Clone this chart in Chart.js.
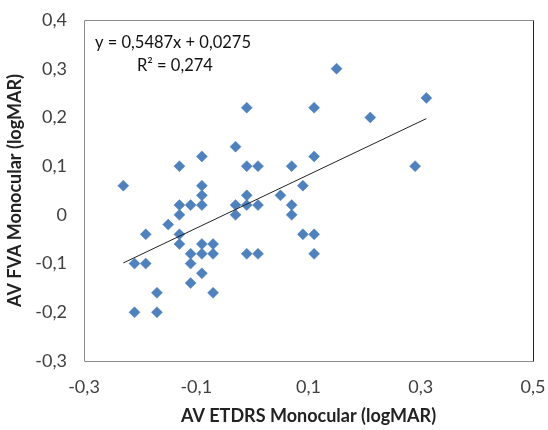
<!DOCTYPE html>
<html>
<head>
<meta charset="utf-8">
<script src="https://cdn.jsdelivr.net/npm/chart.js@4.4.1/dist/chart.umd.min.js"></script>
<style>
  html, body { margin: 0; padding: 0; background: #fff; }
  #wrap { position: relative; width: 548px; height: 430px; }
</style>
</head>
<body>
<div id="wrap"><canvas id="scatterChart"></canvas></div>
<script>
// ============================================
// DATA
// ============================================

// AV ETDRS monocular (x) and AV FVA monocular (y), logMAR
const etdrs = [
    -0.23, -0.03, -0.09, -0.13, -0.01, -0.09, -0.09, -0.13, -0.11, -0.09,
    -0.03, -0.01, -0.13, -0.03, -0.15, -0.19, -0.13, -0.13, -0.09, -0.07,
    -0.11, -0.09, -0.07, -0.01, -0.21, -0.19, -0.11, -0.09, -0.11, -0.17,
    -0.07, -0.21, -0.17, -0.01, 0.11, 0.21, 0.01, 0.07, 0.11, 0.09,
    0.05, -0.01, 0.01, 0.07, 0.07, 0.09, 0.11, 0.01, 0.11, 0.15,
    0.31, 0.29
];
const fva = [
    0.06, 0.14, 0.12, 0.10, 0.10, 0.06, 0.04, 0.02, 0.02, 0.02,
    0.02, 0.04, 0.00, 0.00, -0.02, -0.04, -0.04, -0.06, -0.06, -0.06,
    -0.08, -0.08, -0.08, -0.08, -0.10, -0.10, -0.10, -0.12, -0.14, -0.16,
    -0.16, -0.20, -0.20, 0.22, 0.22, 0.20, 0.10, 0.10, 0.12, 0.06,
    0.04, 0.02, 0.02, 0.02, 0.00, -0.04, -0.04, -0.08, -0.08, 0.30,
    0.24, 0.10
];

// linear trendline shown in the picture
const slope = 0.5487;
const intercept = 0.0275;
const equationText = 'y = 0,5487x + 0,0275';
const r2Text = 'R\u00b2 = 0,274';

// tick labels
const xTicks = [-0.3, -0.1, 0.1, 0.3, 0.5];
const yTicks = [-0.3, -0.2, -0.1, 0, 0.1, 0.2, 0.3, 0.4];

const xTitle = 'AV ETDRS Monocular (logMAR)';
const yTitle = 'AV FVA Monocular (logMAR)';

// ============================================
// CHART
// ============================================

const FONT = 'Lato, "Open Sans", sans-serif';
const pointBlue = '#4F81BD';

function commaLabel(v) {
    if (Math.abs(v) < 1e-9) return '0';
    return v.toFixed(1).replace('.', ',');
}

const points = etdrs.map((x, i) => ({ x: x, y: fva[i] }));
const xMin = Math.min(...etdrs);
const xMax = Math.max(...etdrs);
const trend = [
    { x: xMin, y: slope * xMin + intercept },
    { x: xMax, y: slope * xMax + intercept }
];

// plot frame + equation label
const framePlugin = {
    id: 'frame',
    afterDraw(chart) {
        const { ctx, chartArea: a } = chart;
        ctx.save();
        ctx.lineWidth = 1;
        ctx.strokeStyle = '#8c8c8c';
        ctx.beginPath();
        ctx.moveTo(a.left + 0.5, a.top + 0.5);
        ctx.lineTo(a.left + 0.5, a.bottom + 0.5);
        ctx.lineTo(a.right + 0.5, a.bottom + 0.5);
        ctx.moveTo(a.left + 0.5, a.top + 0.5);
        ctx.lineTo(a.right + 0.5, a.top + 0.5);
        ctx.stroke();
        ctx.strokeStyle = '#222';
        ctx.beginPath();
        ctx.moveTo(a.right + 0.5, a.top + 0.5);
        ctx.lineTo(a.right + 0.5, a.bottom + 0.5);
        ctx.stroke();

        ctx.fillStyle = '#111';
        ctx.font = '16.5px ' + FONT;
        ctx.textBaseline = 'middle';
        ctx.textAlign = 'left';
        ctx.fillText(equationText, a.left + 11, a.top + 23);
        ctx.fillText(r2Text, a.left + 53, a.top + 46);
        ctx.restore();
    }
};

const ctx = document.getElementById('scatterChart').getContext('2d');
new Chart(ctx, {
    type: 'scatter',
    data: {
        datasets: [
            {
                label: 'AV',
                data: points,
                pointStyle: 'rectRot',
                pointRadius: 5.5,
                borderWidth: 0.5,
                backgroundColor: pointBlue,
                borderColor: pointBlue,
                order: 2
            },
            {
                type: 'line',
                label: 'trend',
                data: trend,
                borderColor: '#222',
                borderWidth: 1,
                pointRadius: 0,
                fill: false,
                order: 1
            }
        ]
    },
    options: {
        responsive: true,
        maintainAspectRatio: false,
        animation: false,
        layout: { padding: { left: 0, right: 15, top: 20, bottom: 0 } },
        plugins: {
            legend: { display: false },
            tooltip: { enabled: false }
        },
        scales: {
            x: {
                type: 'linear',
                min: -0.3,
                max: 0.5,
                afterBuildTicks: (s) => { s.ticks = xTicks.map(v => ({ value: v })); },
                afterFit: (s) => { s.height = 69; s.paddingLeft = 0; s.paddingRight = 0; },
                grid: { display: false, drawTicks: false },
                border: { display: false },
                ticks: {
                    padding: 15,
                    color: '#404040',
                    font: { family: FONT, size: 18 },
                    callback: (v) => commaLabel(v)
                },
                title: {
                    display: true,
                    text: xTitle,
                    color: '#222',
                    font: { family: FONT, size: 18, weight: 'bold' },
                    padding: { top: 0, bottom: 3 }
                }
            },
            y: {
                type: 'linear',
                min: -0.3,
                max: 0.4,
                afterBuildTicks: (s) => { s.ticks = yTicks.map(v => ({ value: v })); },
                afterFit: (s) => { s.width = 84; s.paddingTop = 0; s.paddingBottom = 0; },
                grid: { display: false, drawTicks: false },
                border: { display: false },
                ticks: {
                    padding: 17,
                    color: '#404040',
                    font: { family: FONT, size: 18 },
                    callback: (v) => commaLabel(v)
                },
                title: {
                    display: true,
                    text: yTitle,
                    color: '#222',
                    font: { family: FONT, size: 18, weight: 'bold' },
                    padding: { top: 4, bottom: 0 }
                }
            }
        }
    },
    plugins: [framePlugin]
});
</script>
</body>
</html>
